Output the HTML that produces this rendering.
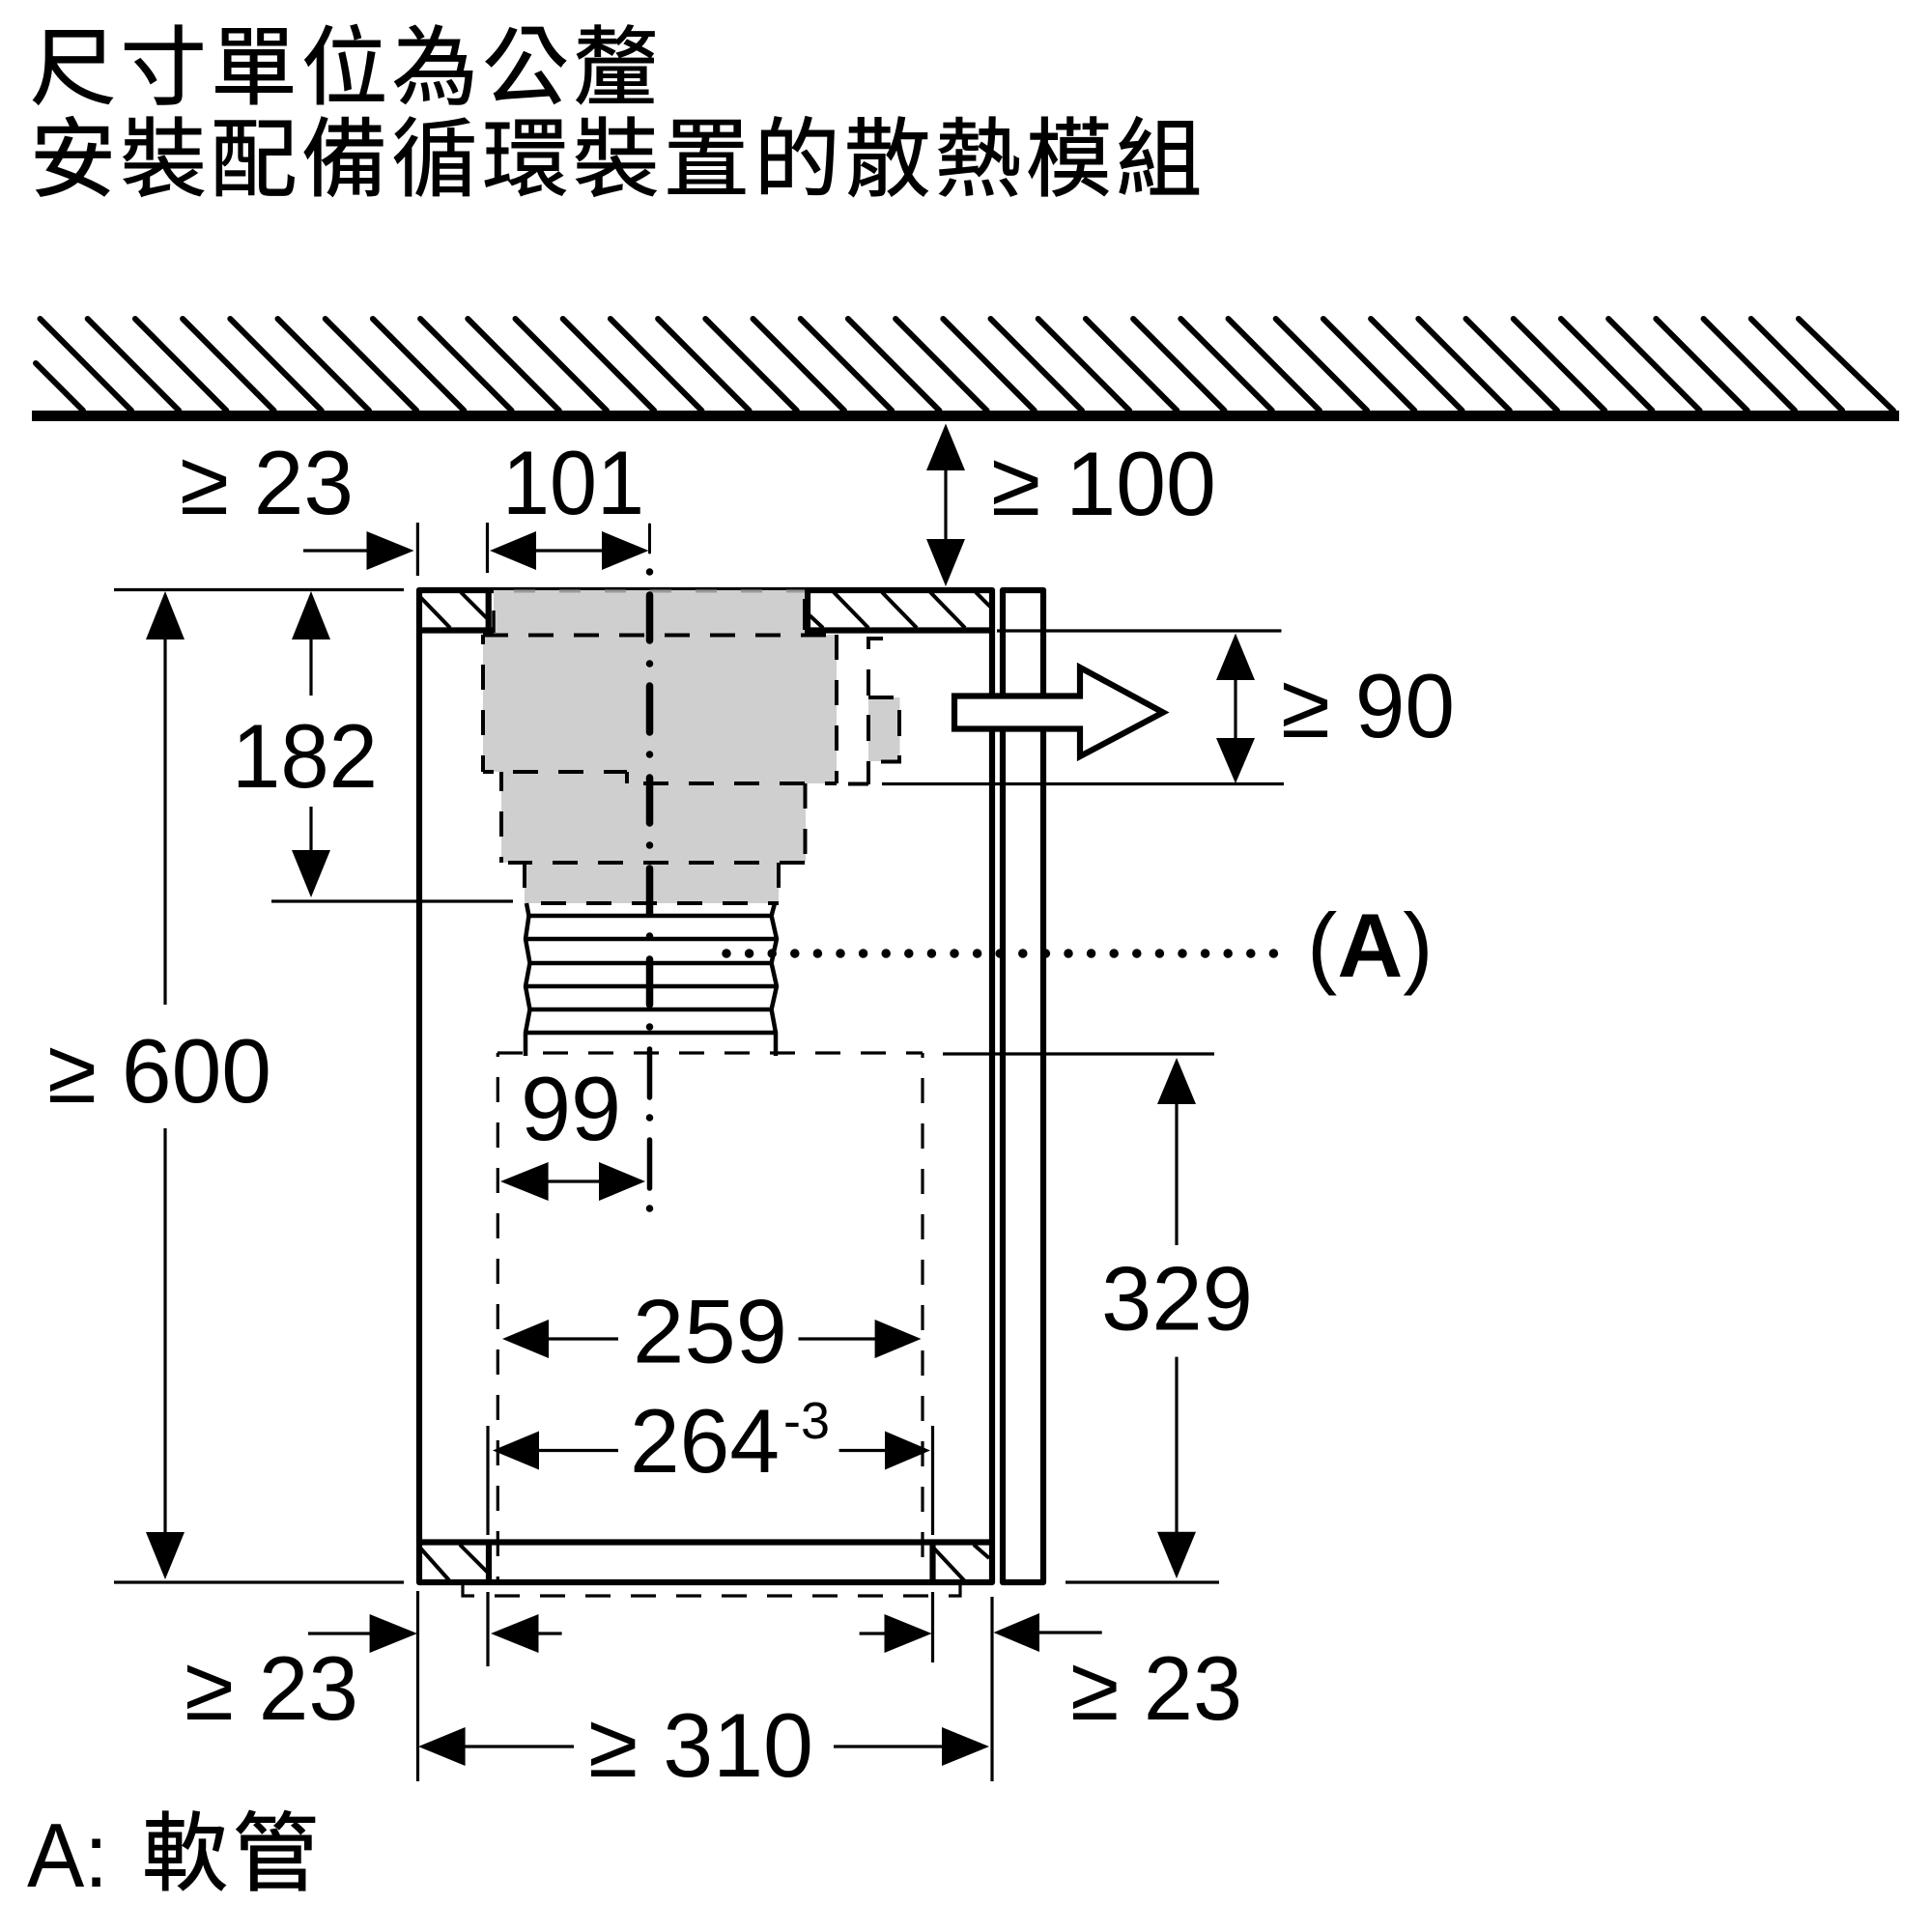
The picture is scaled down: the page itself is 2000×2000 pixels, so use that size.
<!DOCTYPE html>
<html><head><meta charset="utf-8"><style>
html,body{margin:0;padding:0;background:#fff}
svg{display:block}
text{fill:#000}
.t{font-family:"Liberation Sans","Noto Sans CJK TC",sans-serif;font-size:94px}
.c{font-family:"Liberation Sans","Noto Sans CJK TC",sans-serif;font-size:89px;letter-spacing:4.7px;stroke:#000;stroke-width:1}
.th{stroke:#000;stroke-width:3.2;fill:none}
.w{stroke:#000;stroke-width:6.2;fill:none}
.h{stroke:#000;stroke-width:4.5;fill:none}
.d{stroke:#000;stroke-width:4;fill:none;stroke-dasharray:26 21}
.d2{stroke:#000;stroke-width:3.2;fill:none;stroke-dasharray:26 21}
.s{stroke:#000;stroke-width:4;fill:none}
</style></head><body>
<svg width="2000" height="2000" viewBox="0 0 2000 2000" xmlns="http://www.w3.org/2000/svg">
<rect width="2000" height="2000" fill="#fff"/>
<text class="c" x="31" y="101">尺寸單位為公釐</text>
<text class="c" x="31" y="196">安裝配備循環裝置的散熱模組</text>

<!-- ceiling -->
<rect x="33" y="425" width="1933" height="11"/>
<g stroke="#000" stroke-width="6" stroke-linecap="round">
<line x1="37" y1="376" x2="86" y2="425"/>
<line x1="41.5" y1="330" x2="136" y2="425"/><line x1="90.7" y1="330" x2="185.2" y2="425"/><line x1="139.9" y1="330" x2="234.4" y2="425"/><line x1="189.1" y1="330" x2="283.6" y2="425"/><line x1="238.3" y1="330" x2="332.8" y2="425"/><line x1="287.5" y1="330" x2="382" y2="425"/><line x1="336.7" y1="330" x2="431.2" y2="425"/><line x1="385.9" y1="330" x2="480.4" y2="425"/><line x1="435.1" y1="330" x2="529.6" y2="425"/><line x1="484.3" y1="330" x2="578.8" y2="425"/><line x1="533.5" y1="330" x2="628" y2="425"/><line x1="582.7" y1="330" x2="677.2" y2="425"/><line x1="631.9" y1="330" x2="726.4" y2="425"/><line x1="681.1" y1="330" x2="775.6" y2="425"/><line x1="730.3" y1="330" x2="824.8" y2="425"/><line x1="779.5" y1="330" x2="874" y2="425"/><line x1="828.7" y1="330" x2="923.2" y2="425"/><line x1="877.9" y1="330" x2="972.4" y2="425"/><line x1="927.1" y1="330" x2="1021.6" y2="425"/><line x1="976.3" y1="330" x2="1070.8" y2="425"/><line x1="1025.5" y1="330" x2="1120" y2="425"/><line x1="1074.7" y1="330" x2="1169.2" y2="425"/><line x1="1123.9" y1="330" x2="1218.4" y2="425"/><line x1="1173.1" y1="330" x2="1267.6" y2="425"/><line x1="1222.3" y1="330" x2="1316.8" y2="425"/><line x1="1271.5" y1="330" x2="1366" y2="425"/><line x1="1320.7" y1="330" x2="1415.2" y2="425"/><line x1="1369.9" y1="330" x2="1464.4" y2="425"/><line x1="1419.1" y1="330" x2="1513.6" y2="425"/><line x1="1468.3" y1="330" x2="1562.8" y2="425"/><line x1="1517.5" y1="330" x2="1612" y2="425"/><line x1="1566.7" y1="330" x2="1661.2" y2="425"/><line x1="1615.9" y1="330" x2="1710.4" y2="425"/><line x1="1665.1" y1="330" x2="1759.6" y2="425"/><line x1="1714.3" y1="330" x2="1808.8" y2="425"/><line x1="1763.5" y1="330" x2="1858" y2="425"/><line x1="1812.7" y1="330" x2="1907.2" y2="425"/><line x1="1861.9" y1="330" x2="1960" y2="425"/>
</g>

<!-- cabinet -->
<g stroke-linejoin="round">
<rect class="w" x="434" y="611" width="593" height="1027"/>
<line class="w" x1="432" y1="652.5" x2="511" y2="652.5"/><line class="w" x1="833" y1="652.5" x2="1027" y2="652.5"/>
<line class="w" x1="505.7" y1="611" x2="505.7" y2="652"/><line class="w" x1="836" y1="611" x2="836" y2="652"/>
<line class="w" x1="434" y1="1596.5" x2="1027" y2="1596.5"/>
<line class="w" x1="506" y1="1596" x2="506" y2="1638"/><line class="w" x1="965.5" y1="1596" x2="965.5" y2="1638"/>
<rect class="w" x="1038" y="611" width="42" height="1027"/>
</g>
<g stroke="#000" stroke-width="4" fill="none">
<line x1="434" y1="617" x2="466" y2="650"/><line x1="477" y1="613" x2="504" y2="640"/>
<line x1="838" y1="637" x2="852" y2="650"/><line x1="863" y1="613" x2="899" y2="650"/><line x1="913" y1="613" x2="949" y2="650"/><line x1="963" y1="613" x2="999" y2="650"/><line x1="1010" y1="613" x2="1025" y2="628"/>
<line x1="435.6" y1="1603" x2="465" y2="1636"/><line x1="476" y1="1599" x2="505" y2="1628"/>
<line x1="967" y1="1603" x2="998" y2="1636"/><line x1="1008" y1="1599" x2="1024" y2="1613"/>
</g>

<!-- grey -->
<g fill="#cfcfcf">
<rect x="511" y="611" width="322" height="47"/>
<rect x="500" y="657" width="366" height="142"/>
<rect x="519" y="799" width="347" height="12"/>
<rect x="519" y="811" width="315" height="82"/>
<rect x="543" y="893" width="263" height="42"/>
<rect x="899" y="722" width="32.5" height="66"/>
</g>

<!-- dashed -->
<g class="d">
<line x1="500" y1="657.5" x2="866" y2="657.5"/>
<line x1="500" y1="657" x2="500" y2="799" stroke-dashoffset="16"/>
<line x1="500" y1="799" x2="511" y2="799" class="s"/>
<line x1="531" y1="799" x2="649" y2="799"/>
<line x1="649" y1="799" x2="649" y2="811" class="s"/>
<line x1="866" y1="657" x2="866" y2="811"/>
<line x1="866" y1="811" x2="665" y2="811" stroke-dashoffset="14"/>
<line x1="519" y1="799" x2="519" y2="893" stroke-dashoffset="6"/>
<line x1="833.5" y1="811" x2="833.5" y2="893"/>
<line x1="833" y1="893" x2="526" y2="893"/>
<line x1="543" y1="893" x2="543" y2="935"/><line x1="806" y1="893" x2="806" y2="935"/>
<line x1="806" y1="935" x2="543" y2="935" stroke-dashoffset="15"/>
</g>
<g class="s">
<line x1="899" y1="661" x2="899" y2="672"/><line x1="899" y1="693" x2="899" y2="720"/><line x1="899" y1="740" x2="899" y2="767"/><line x1="899" y1="788" x2="899" y2="812"/>
<line x1="897" y1="661" x2="914" y2="661"/>
<line x1="899" y1="722" x2="925" y2="722"/>
<line x1="931" y1="735" x2="931" y2="762"/><line x1="931" y1="782" x2="931" y2="789"/>
<line x1="912" y1="788.5" x2="933" y2="788.5"/>
<line x1="878" y1="811.5" x2="899" y2="811.5"/>
</g>
<g stroke="#9a9a9a" stroke-width="3" fill="none" stroke-dasharray="22 25"><line x1="532" y1="612" x2="833" y2="612"/></g>
<line x1="511" y1="632" x2="511" y2="655" stroke="#000" stroke-width="3.5"/>
<line x1="833" y1="620" x2="833" y2="652" stroke="#000" stroke-width="4"/>

<!-- hose -->
<g class="h" stroke-linejoin="round">
<path d="M545 935L547.5 948L544 972L548.5 997L544 1021L548.5 1045L544 1069V1093"/>
<path d="M802 935L798.6 948L804 972L798.6 997L804 1021L798.6 1045L803 1069V1093"/>
<line x1="547" y1="948" x2="799" y2="948"/><line x1="544" y1="972" x2="804" y2="972"/><line x1="548" y1="997" x2="799" y2="997"/><line x1="544" y1="1021" x2="804" y2="1021"/><line x1="548" y1="1045" x2="799" y2="1045"/><line x1="544" y1="1069" x2="803" y2="1069"/>
</g>

<!-- big dashed -->
<line class="d2" x1="515" y1="1090" x2="955" y2="1090"/>
<line class="d2" x1="515.3" y1="1090" x2="515.3" y2="1638" stroke-dashoffset="22"/>
<line class="d2" x1="955" y1="1090" x2="955" y2="1614" stroke-dashoffset="21"/>
<path class="d2" d="M479 1638V1652H994V1638"/>

<!-- centre line -->
<g stroke="#000" stroke-linecap="round" fill="none">
<line x1="672.5" y1="543" x2="672.5" y2="572" stroke-width="3"/>
<g stroke-width="7.5">
<line x1="672.5" y1="616" x2="672.5" y2="663"/><line x1="672.5" y1="710" x2="672.5" y2="758"/><line x1="672.5" y1="805" x2="672.5" y2="852"/><line x1="672.5" y1="899" x2="672.5" y2="946"/><line x1="672.5" y1="993" x2="672.5" y2="1040"/>
<line x1="672.5" y1="687" x2="672.5" y2="687.01"/><line x1="672.5" y1="781" x2="672.5" y2="781.01"/><line x1="672.5" y1="875" x2="672.5" y2="875.01"/><line x1="672.5" y1="969" x2="672.5" y2="969.01"/><line x1="672.5" y1="1063" x2="672.5" y2="1063.01"/>
<line x1="672.5" y1="592" x2="672.5" y2="592.01"/><line x1="672.5" y1="1157" x2="672.5" y2="1157.01"/><line x1="672.5" y1="1251" x2="672.5" y2="1251.01"/>
</g>
<g stroke-width="5.5">
<line x1="672.5" y1="1086" x2="672.5" y2="1136"/><line x1="672.5" y1="1180" x2="672.5" y2="1230"/>
</g>
</g>

<!-- leader dots -->
<line x1="752" y1="987" x2="1322" y2="987" stroke="#000" stroke-width="9.5" stroke-linecap="round" stroke-dasharray="0 23.6"/>

<!-- white arrow -->
<path d="M988 720.5H1118V691L1204 737.5L1118 783V754.5H988Z" fill="#fff" stroke="#000" stroke-width="6.2" stroke-linejoin="miter"/>

<!-- thin lines -->
<g class="th">
<line x1="118" y1="610.5" x2="418" y2="610.5"/>
<line x1="118" y1="1638" x2="418" y2="1638"/>
<line x1="281" y1="933" x2="531" y2="933"/>
<line x1="1032" y1="653" x2="1326.5" y2="653"/>
<line x1="913" y1="811.5" x2="1329" y2="811.5"/>
<line x1="976" y1="1091" x2="1257" y2="1091"/>
<line x1="1103" y1="1638" x2="1262" y2="1638"/>
<line x1="432.4" y1="541" x2="432.4" y2="596"/>
<line x1="504.5" y1="541" x2="504.5" y2="593"/>
<line x1="505" y1="1476" x2="505" y2="1589"/>
<line x1="965.5" y1="1476" x2="965.5" y2="1589"/>
<line x1="432.5" y1="1647" x2="432.5" y2="1844"/>
<line x1="1027" y1="1653" x2="1027" y2="1844"/>
<line x1="505" y1="1648" x2="505" y2="1725"/>
<line x1="965.5" y1="1648" x2="965.5" y2="1721"/>
<!-- dim shafts -->
<line x1="314" y1="570" x2="385" y2="570"/>
<line x1="550" y1="570" x2="630" y2="570"/>
<line x1="979" y1="480" x2="979" y2="565"/>
<line x1="1279" y1="700" x2="1279" y2="770"/>
<line x1="171" y1="655" x2="171" y2="1040"/>
<line x1="171" y1="1168" x2="171" y2="1590"/>
<line x1="322" y1="655" x2="322" y2="720"/>
<line x1="322" y1="835" x2="322" y2="885"/>
<line x1="560" y1="1223" x2="625" y2="1223"/>
<line x1="560" y1="1386" x2="640" y2="1386"/>
<line x1="826.5" y1="1386" x2="910" y2="1386"/>
<line x1="550" y1="1501.5" x2="640" y2="1501.5"/>
<line x1="868.6" y1="1501.5" x2="920" y2="1501.5"/>
<line x1="1218" y1="1140" x2="1218" y2="1289"/>
<line x1="1218" y1="1404.6" x2="1218" y2="1590"/>
<line x1="319" y1="1691" x2="390" y2="1691"/>
<line x1="550" y1="1691" x2="581.6" y2="1691"/>
<line x1="889.6" y1="1691" x2="920" y2="1691"/>
<line x1="1070" y1="1690" x2="1140.7" y2="1690"/>
<line x1="475" y1="1808" x2="594" y2="1808"/>
<line x1="863" y1="1808" x2="980" y2="1808"/>
</g>

<!-- arrowheads -->
<g fill="#000">
<polygon points="428.6,570 379.5,550 379.5,590"/>
<polygon points="507,570 555,550 555,590"/>
<polygon points="671.5,570 623,550 623,590"/>
<polygon points="979,438.5 959,487 999,487"/>
<polygon points="979,607 959,558 999,558"/>
<polygon points="1279,655.6 1259,704 1299,704"/>
<polygon points="1279,811 1259,764 1299,764"/>
<polygon points="171,612 151,662 191,662"/>
<polygon points="171,1635 151,1586 191,1586"/>
<polygon points="322,612 302,662 342,662"/>
<polygon points="322,929 302,880 342,880"/>
<polygon points="518,1223 567.6,1203 567.6,1243"/>
<polygon points="668,1223 620,1203 620,1243"/>
<polygon points="520,1386 568,1366 568,1406"/>
<polygon points="953.5,1386 905.6,1366 905.6,1406"/>
<polygon points="510,1501.5 558,1481.5 558,1521.5"/>
<polygon points="963,1501.5 916,1481.5 916,1521.5"/>
<polygon points="1218,1095 1198,1143 1238,1143"/>
<polygon points="1218,1634 1198,1585.7 1238,1585.7"/>
<polygon points="432,1691 382.6,1671 382.6,1711"/>
<polygon points="508,1691 557.5,1671 557.5,1711"/>
<polygon points="964.6,1691 915.5,1671 915.5,1711"/>
<polygon points="1028.5,1690 1076,1670 1076,1710"/>
<polygon points="433,1808 481.6,1788 481.6,1828"/>
<polygon points="1024,1808 975,1788 975,1828"/>
</g>

<!-- labels -->
<text class="t" x="186" y="532" textLength="180" lengthAdjust="spacingAndGlyphs">≥ 23</text>
<text class="t" x="520" y="532" textLength="147" lengthAdjust="spacingAndGlyphs">101</text>
<text class="t" x="1026" y="533" textLength="233" lengthAdjust="spacingAndGlyphs">≥ 100</text>
<text class="t" x="1326" y="763" textLength="180" lengthAdjust="spacingAndGlyphs">≥ 90</text>
<text class="t" x="240" y="815" textLength="151" lengthAdjust="spacingAndGlyphs">182</text>
<text class="t" x="49" y="1141" textLength="232" lengthAdjust="spacingAndGlyphs">≥ 600</text>
<text class="t" x="539" y="1180" textLength="104" lengthAdjust="spacingAndGlyphs">99</text>
<text class="t" x="655" y="1410.5" textLength="160" lengthAdjust="spacingAndGlyphs">259</text>
<text class="t" x="652" y="1524" textLength="155" lengthAdjust="spacingAndGlyphs">264</text>
<text class="t" x="811" y="1489" style="font-size:54px">-3</text>
<text class="t" x="1140" y="1376.5" textLength="157" lengthAdjust="spacingAndGlyphs">329</text>
<text class="t" x="191" y="1780" textLength="180" lengthAdjust="spacingAndGlyphs">≥ 23</text>
<text class="t" x="609" y="1839" textLength="233" lengthAdjust="spacingAndGlyphs">≥ 310</text>
<text class="t" x="1108" y="1780" textLength="178" lengthAdjust="spacingAndGlyphs">≥ 23</text>
<text class="t" x="1353" y="1011">(<tspan font-weight="bold">A</tspan>)</text>
<text class="t" x="28" y="1953" textLength="84" lengthAdjust="spacingAndGlyphs">A:</text>
<text class="c" x="147" y="1950">軟管</text>
</svg>
</body></html>
